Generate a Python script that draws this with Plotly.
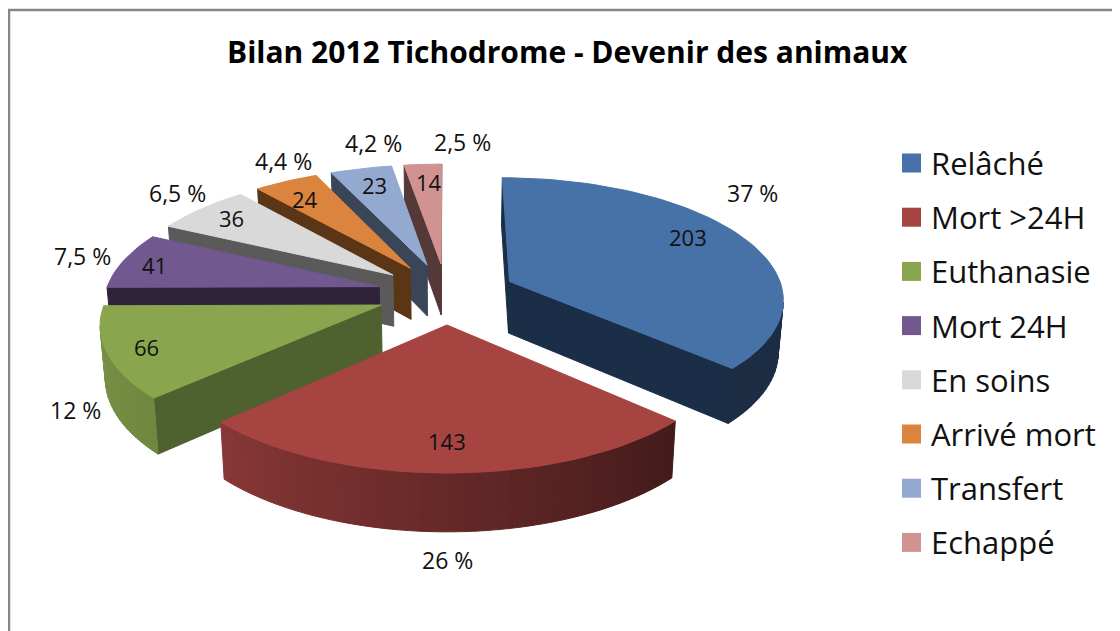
import numpy as np
import plotly.graph_objects as go

title = "Bilan 2012 Tichodrome - Devenir des animaux"
categories = ["Relâché", "Mort >24H", "Euthanasie", "Mort 24H", "En soins", "Arrivé mort", "Transfert", "Echappé"]
values = [203, 143, 66, 41, 36, 24, 23, 14]
pct_labels = ["37 %", "26 %", "12 %", "7,5 %", "6,5 %", "4,4 %", "4,2 %", "2,5 %"]

# styles
top_colors = ["#4672A8", "#A64442", "#89A54E", "#71588F", "#D9D9D9", "#DB843D", "#93A9CF", "#D19392"]
wall_colors = ["#1B2E47", "#431A18", "#4F612F", "#2E2339", "#5A5A5A", "#5A3516", "#3A4558", "#553938"]

# where the texts sit, in pixels
value_pos = [(688, 237), (447, 441), (146, 347), (154, 265), (231, 218), (305, 199), (374, 185), (429, 182)]
pct_pos = [(752, 193), (447, 560), (75, 410), (82, 256), (177, 193), (283, 161), (373, 143), (462, 142)]

# perspective of the 3d pie
CX, CY = 446.5, 293.5
RX, RY = 274, 120
PERSP = 0.129
EXPLODE = 0.254
BACK_TO_FRONT = [7, 6, 5, 4, 3, 0, 2, 1]

# the page has an 8px body margin, so the figure is smaller and the axes start at 8
PAGE_MARGIN = 8
FONT = "Open Sans"


def project(u, v):
    s = 1 / (1 - PERSP * v)
    return CX + RX * u * s, CY + RY * v * s, s


def wall_point(u, v):
    # same point at the bottom of the pie
    x, y, s = project(u, v)
    return CX + (x - CX) * 0.985, y + 52 * s ** 0.7


def shade(hex_color, f):
    rgb = [int(hex_color[i:i + 2], 16) for i in (1, 3, 5)]
    return "rgb(%d,%d,%d)" % tuple(c * f for c in rgb)


def poly(xs, ys, color):
    return go.Scatter(x=xs, y=ys, mode="lines", fill="toself", fillcolor=color,
                      line=dict(color=color, width=1), hoverinfo="skip", showlegend=False)


def wall(p, q, color):
    # p and q are (u, v); the face shows only when the top edge runs right to left
    x1, y1, _ = project(*p)
    x2, y2, _ = project(*q)
    if x2 >= x1:
        return None
    bx1, by1 = wall_point(*p)
    bx2, by2 = wall_point(*q)
    return poly([x1, x2, bx2, bx1, x1], [y1, y2, by2, by1, y1], color)


fractions = np.array(values) / sum(values)
ends = np.cumsum(fractions) * 360
starts = ends - fractions * 360

traces = []
for i in BACK_TO_FRONT:
    a0, a1 = starts[i], ends[i]
    mid = np.radians((a0 + a1) / 2)
    ou, ov = EXPLODE * np.sin(mid), -EXPLODE * np.cos(mid)
    angles = np.arange(a0, a1, 2.0).tolist() + [a1]
    rim = [(ou + np.sin(np.radians(a)), ov - np.cos(np.radians(a))) for a in angles]

    for face in (wall((ou, ov), rim[0], wall_colors[i]), wall(rim[-1], (ou, ov), wall_colors[i])):
        if face is not None:
            traces.append(face)
    for k in range(len(rim) - 1):
        a = (angles[k] + angles[k + 1]) / 2
        f = np.interp(a, [133, 226, 270], [0.40, 0.82, 0.90])
        face = wall(rim[k], rim[k + 1], shade(top_colors[i], f))
        if face is not None:
            traces.append(face)

    outline = [(ou, ov)] + rim + [(ou, ov)]
    xy = [project(u, v) for u, v in outline]
    traces.append(poly([p[0] for p in xy], [p[1] for p in xy], top_colors[i]))

# legend
legend_y = [163 + 54.2 * i for i in range(len(categories))]
traces.append(go.Scatter(x=[911.5] * len(categories), y=legend_y, mode="markers", hoverinfo="skip", showlegend=False,
                         marker=dict(symbol="square", size=19, color=top_colors, line=dict(width=0))))

fig = go.Figure(traces)

for i in range(len(values)):
    fig.add_annotation(x=value_pos[i][0], y=value_pos[i][1], text=str(values[i]), showarrow=False,
                       font=dict(family=FONT, size=22, color="#111111"))
    fig.add_annotation(x=pct_pos[i][0], y=pct_pos[i][1], text=pct_labels[i], showarrow=False,
                       font=dict(family=FONT, size=23, color="#111111"))
    fig.add_annotation(x=929, y=legend_y[i], text=categories[i], showarrow=False, xanchor="left",
                       font=dict(family=FONT, size=31, color="#111111"))

fig.add_annotation(x=567, y=51, text="<b>" + title + "</b>", showarrow=False,
                   font=dict(family=FONT, size=30, color="#000000"))

# chart frame, it runs off the picture on the right and at the bottom
fig.add_shape(type="rect", x0=9, y0=10, x1=1140, y1=650, line=dict(color="#868686", width=2.5), layer="below")

fig.update_layout(width=1120 - PAGE_MARGIN, height=631 - PAGE_MARGIN, margin=dict(l=0, r=0, t=0, b=0), showlegend=False,
                  paper_bgcolor="white", plot_bgcolor="white",
                  xaxis=dict(range=[PAGE_MARGIN, 1120], visible=False),
                  yaxis=dict(range=[631, PAGE_MARGIN], visible=False))

fig.write_html("out.html")
